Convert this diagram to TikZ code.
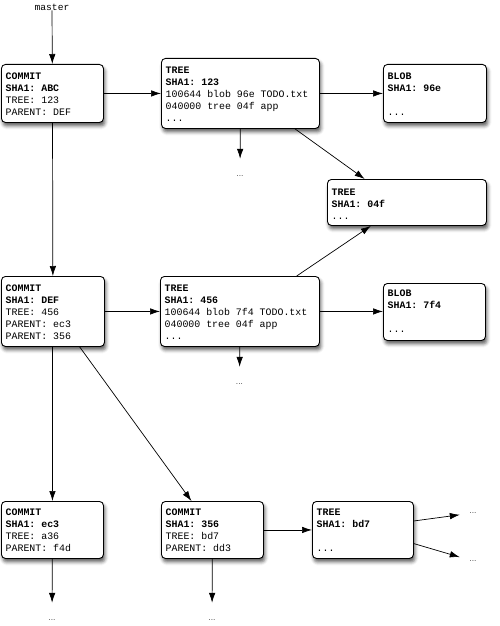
\documentclass[tikz,border=0pt]{standalone}
\usepackage{fontspec}
\setmonofont{Liberation Mono}
\usetikzlibrary{arrows.meta,shadows.blur}
\begin{document}
\begin{tikzpicture}[x=1pt,y=-1pt,
  box/.style={draw, line width=0.9pt, rounded corners=4pt, fill=white, inner sep=0, anchor=north west,
    blur shadow={shadow xshift=1.5pt, shadow yshift=-3.5pt, shadow blur radius=3.5pt, shadow opacity=65}},
  txt/.style={anchor=north west, inner sep=0, align=left, font=\ttfamily\fontsize{9.9}{12}\selectfont},
  lbl/.style={inner sep=0, font=\ttfamily\fontsize{9.6}{12}\selectfont},
  dots/.style={inner sep=0, minimum width=26pt, minimum height=34pt, font=\sffamily\fontsize{8}{9}\selectfont},
  arr/.style={-{Latex[length=10pt,width=6.5pt]}, line width=0.7pt},
]
\useasboundingbox (0,0) rectangle (500,626);

% boxes
\node[box, minimum width=102pt, minimum height=58pt] (abc) at (1,64) {};
\node[box, minimum width=158pt, minimum height=70pt] (t123) at (161,58) {};
\node[box, minimum width=103pt, minimum height=58pt] (b96e) at (383,64) {};
\node[box, minimum width=159pt, minimum height=46pt] (t04f) at (327,179) {};
\node[box, minimum width=103pt, minimum height=70pt] (def) at (1,276) {};
\node[box, minimum width=159pt, minimum height=70pt] (t456) at (160,276) {};
\node[box, minimum width=102pt, minimum height=57pt] (b7f4) at (383,283) {};
\node[box, minimum width=102pt, minimum height=57pt] (ec3) at (1,501) {};
\node[box, minimum width=102pt, minimum height=57pt] (c356) at (161,501) {};
\node[box, minimum width=101pt, minimum height=57pt] (bd7) at (312,501) {};

% texts
\node[txt] (abc-t) at ([shift={(4.5,8.5)}]abc.north west) {{\bfseries COMMIT}\\{\bfseries SHA1: ABC}\\TREE: 123\\PARENT: DEF};
\node[txt] (t123-t) at ([shift={(4.5,8.5)}]t123.north west) {{\bfseries TREE}\\{\bfseries SHA1: 123}\\100644 blob 96e TODO.txt\\040000 tree 04f app\\...};
\node[txt] (b96e-t) at ([shift={(4.5,8.5)}]b96e.north west) {{\bfseries BLOB}\\{\bfseries SHA1: 96e}\\[12pt]...};
\node[txt] (t04f-t) at ([shift={(4.5,9.5)}]t04f.north west) {{\bfseries TREE}\\{\bfseries SHA1: 04f}\\...};
\node[txt] (def-t) at ([shift={(4.5,8.5)}]def.north west) {{\bfseries COMMIT}\\{\bfseries SHA1: DEF}\\TREE: 456\\PARENT: ec3\\PARENT: 356};
\node[txt] (t456-t) at ([shift={(4.5,8.5)}]t456.north west) {{\bfseries TREE}\\{\bfseries SHA1: 456}\\100644 blob 7f4 TODO.txt\\040000 tree 04f app\\...};
\node[txt] (b7f4-t) at ([shift={(4.5,6.5)}]b7f4.north west) {{\bfseries BLOB}\\{\bfseries SHA1: 7f4}\\[12pt]...};
\node[txt] (ec3-t) at ([shift={(4.5,7.5)}]ec3.north west) {{\bfseries COMMIT}\\{\bfseries SHA1: ec3}\\TREE: a36\\PARENT: f4d};
\node[txt] (c356-t) at ([shift={(4.5,7.5)}]c356.north west) {{\bfseries COMMIT}\\{\bfseries SHA1: 356}\\TREE: bd7\\PARENT: dd3};
\node[txt] (bd7-t) at ([shift={(4.5,7.5)}]bd7.north west) {{\bfseries TREE}\\{\bfseries SHA1: bd7}\\[12pt]...};

% labels
\node[lbl] (master) at (52,7) {master};
\node[dots] (d1) at (240,176) {...};
\node[dots] (d2) at (239.5,384) {...};
\node[dots] (d3) at (52,620) {...};
\node[dots] (d4) at (212,620) {...};
\node[dots] (d5) at (473,513) {...};
\node[dots] (d6) at (473,561) {...};

% connectors
\draw[arr] (master) -- (abc);
\draw[arr] (abc.east) -- (abc.east -| t123.west);
\draw[arr] (t123.east) -- (t123.east -| b96e.west);
\draw[arr] (t123.-33) -- (t04f.151);
\draw[arr] (t123) -- (d1);
\draw[arr] (abc) -- (def);
\draw[arr] (def.east) -- (def.east -| t456.west);
\draw[arr] (t456.east) -- (t456.east -| b7f4.west);
\draw[arr] (t456.32) -- (t04f.-147);
\draw[arr] (t456) -- (d2);
\draw[arr] (def.south -| ec3) -- (ec3);
\draw[arr] (def.-53) -- (c356.126);
\draw[arr] (ec3) -- (d3);
\draw[arr] (c356) -- (d4);
\draw[arr] (c356.east) -- (c356.east -| bd7.west);
\draw[arr] (bd7.10.6) -- (d5);
\draw[arr] (bd7.-15) -- (d6);
\end{tikzpicture}
\end{document}
